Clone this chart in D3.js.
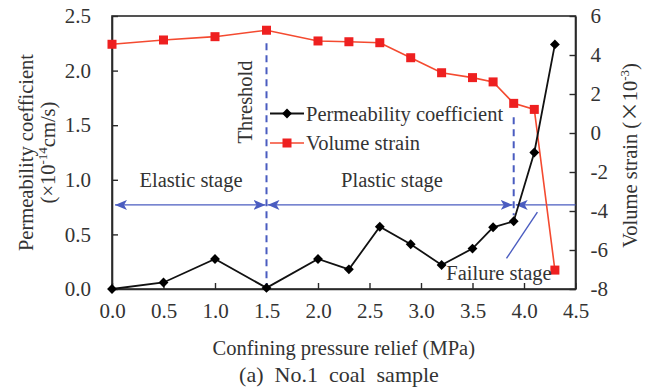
<!DOCTYPE html>
<html>
<head>
<meta charset="utf-8">
<script src="https://cdn.jsdelivr.net/npm/d3@7"></script>
<style>
  html, body { margin: 0; padding: 0; background: #fff; }
  svg { display: block; }
  text { font-family: "Liberation Serif", "Times New Roman", serif; fill: #333; }
</style>
</head>
<body>
<svg id="chart" width="650" height="388"></svg>
<script>
// Confining pressure relief (MPa)
const pressure = [0, 0.5, 1.0, 1.5, 2.0, 2.3, 2.6, 2.9, 3.2, 3.5, 3.7, 3.9, 4.1, 4.3];
// Permeability coefficient (×10^-14 cm/s)
const permeability = [0.0, 0.06, 0.275, 0.01, 0.275, 0.18, 0.57, 0.41, 0.22, 0.37, 0.565, 0.62, 1.25, 2.24];
// Volume strain (×10^-3)
const volumeStrain = [4.55, 4.77, 4.94, 5.27, 4.72, 4.68, 4.63, 3.86, 3.09, 2.84, 2.62, 1.52, 1.21, -7.03];

const xTicks = [0, 0.5, 1.0, 1.5, 2.0, 2.5, 3.0, 3.5, 4.0, 4.5];
const yLeftTicks = [0, 0.5, 1.0, 1.5, 2.0, 2.5];
const yRightTicks = [-8, -6, -4, -2, 0, 2, 4, 6];

// Stage boundaries (MPa)
const thresholdP = 1.5;
const failureP = 3.9;
const stageArrowLevel = 0.77; // on the permeability axis

const svg = d3.select("#chart");
const M = { left: 112, right: 575.5, top: 16, bottom: 289 };

const x = d3.scaleLinear().domain([0, 4.5]).range([M.left, M.right]);
const yL = d3.scaleLinear().domain([0, 2.5]).range([M.bottom, M.top]);
const yR = d3.scaleLinear().domain([-8, 6]).range([M.bottom, M.top]);

const BLUE = "#4a5cc0";
const RED = "#ee2020";
const REDLINE = "#f44a30";
const AXIS = "#2a2a2a";
const FS = 20.5;
const TICK_FS = 21;

// frame
svg.append("rect")
  .attr("x", M.left).attr("y", M.top)
  .attr("width", M.right - M.left).attr("height", M.bottom - M.top)
  .attr("fill", "none").attr("stroke", AXIS).attr("stroke-width", 1.6);

function styleAxis(g) {
  g.select(".domain").attr("stroke", AXIS).attr("stroke-width", 1.6);
  g.selectAll(".tick line").attr("stroke", AXIS).attr("stroke-width", 1.4);
  g.selectAll(".tick text")
    .attr("font-size", TICK_FS)
    .attr("font-family", "Liberation Serif, serif")
    .attr("fill", "#333");
}

svg.append("g").attr("transform", `translate(0,${M.bottom})`)
  .call(d3.axisBottom(x).tickValues(xTicks).tickFormat(d3.format(".1f"))
    .tickSizeInner(-6).tickSizeOuter(0).tickPadding(14))
  .call(styleAxis);

svg.append("g").attr("transform", `translate(${M.left},0)`)
  .call(d3.axisLeft(yL).tickValues(yLeftTicks).tickFormat(d3.format(".1f"))
    .tickSizeInner(-6).tickSizeOuter(0).tickPadding(21))
  .call(styleAxis);

svg.append("g").attr("transform", `translate(${M.right},0)`)
  .call(d3.axisRight(yR).tickValues(yRightTicks).tickFormat(d => d3.format("d")(d).replace("−", "-"))
    .tickSizeInner(-6).tickSizeOuter(0).tickPadding(15))
  .call(styleAxis);

// arrowheads
const defs = svg.append("defs");
defs.append("marker")
  .attr("id", "arrow").attr("viewBox", "0 0 12 10")
  .attr("refX", 12).attr("refY", 5)
  .attr("markerWidth", 12).attr("markerHeight", 10)
  .attr("markerUnits", "userSpaceOnUse")
  .attr("orient", "auto-start-reverse")
  .append("path").attr("d", "M0,0 L12,5 L0,10 L3,5 Z").attr("fill", BLUE);

// threshold and failure dashed lines
svg.append("line")
  .attr("x1", x(thresholdP)).attr("x2", x(thresholdP))
  .attr("y1", yR(volumeStrain[3]) + 13).attr("y2", M.bottom)
  .attr("stroke", BLUE).attr("stroke-width", 2).attr("stroke-dasharray", "7,5");
svg.append("line")
  .attr("x1", x(failureP)).attr("x2", x(failureP))
  .attr("y1", yR(volumeStrain[11]) + 14).attr("y2", yL(permeability[11]) - 6)
  .attr("stroke", BLUE).attr("stroke-width", 2).attr("stroke-dasharray", "7,5");

// stage arrows
const ay = yL(stageArrowLevel);
svg.append("line")
  .attr("x1", x(0) + 3).attr("x2", x(thresholdP) - 1).attr("y1", ay).attr("y2", ay)
  .attr("stroke", BLUE).attr("stroke-width", 1.4)
  .attr("marker-start", "url(#arrow)").attr("marker-end", "url(#arrow)");
svg.append("line")
  .attr("x1", x(thresholdP) + 1).attr("x2", x(failureP) - 1).attr("y1", ay).attr("y2", ay)
  .attr("stroke", BLUE).attr("stroke-width", 1.4)
  .attr("marker-start", "url(#arrow)").attr("marker-end", "url(#arrow)");
svg.append("line")
  .attr("x1", x(failureP) + 2).attr("x2", M.right).attr("y1", ay).attr("y2", ay)
  .attr("stroke", BLUE).attr("stroke-width", 1.4)
  .attr("marker-start", "url(#arrow)");

// leader line for failure stage
svg.append("line")
  .attr("x1", x(3.83)).attr("y1", yL(0.28))
  .attr("x2", x(4.13)).attr("y2", yL(0.705))
  .attr("stroke", BLUE).attr("stroke-width", 1.4);

// series lines
const lineL = d3.line().x((d, i) => x(pressure[i])).y(d => yL(d));
const lineR = d3.line().x((d, i) => x(pressure[i])).y(d => yR(d));

svg.append("path").datum(volumeStrain).attr("d", lineR)
  .attr("fill", "none").attr("stroke", REDLINE).attr("stroke-width", 1.6);
svg.append("path").datum(permeability).attr("d", lineL)
  .attr("fill", "none").attr("stroke", "#111").attr("stroke-width", 1.8);

const diamond = d3.symbol().type(d3.symbolDiamond2).size(62);
svg.append("g").selectAll("path").data(permeability).join("path")
  .attr("d", diamond)
  .attr("transform", (d, i) => `translate(${x(pressure[i])},${yL(d)})`)
  .attr("fill", "#000");

svg.append("g").selectAll("rect").data(volumeStrain).join("rect")
  .attr("x", (d, i) => x(pressure[i]) - 4.5).attr("y", d => yR(d) - 4.5)
  .attr("width", 9).attr("height", 9)
  .attr("fill", RED);

// legend
const lg = svg.append("g");
lg.append("line").attr("x1", 270).attr("x2", 304).attr("y1", 113.5).attr("y2", 113.5)
  .attr("stroke", "#111").attr("stroke-width", 1.8);
lg.append("path").attr("d", diamond).attr("transform", "translate(287,113.5)").attr("fill", "#000");
lg.append("text").attr("x", 306).attr("y", 121)
  .attr("font-size", FS).text("Permeability coefficient");
lg.append("line").attr("x1", 270).attr("x2", 304).attr("y1", 143).attr("y2", 143)
  .attr("stroke", REDLINE).attr("stroke-width", 1.6);
lg.append("rect").attr("x", 282.5).attr("y", 138.5).attr("width", 9).attr("height", 9).attr("fill", RED);
lg.append("text").attr("x", 306).attr("y", 150)
  .attr("font-size", FS).text("Volume strain");

// annotations
svg.append("text").attr("transform", `translate(252,102) rotate(-90)`)
  .attr("text-anchor", "middle").attr("font-size", FS).text("Threshold");
svg.append("text").attr("x", 191).attr("y", 187)
  .attr("text-anchor", "middle").attr("font-size", FS).text("Elastic stage");
svg.append("text").attr("x", 392).attr("y", 187)
  .attr("text-anchor", "middle").attr("font-size", FS).text("Plastic stage");
svg.append("text").attr("x", 499).attr("y", 280)
  .attr("text-anchor", "middle").attr("font-size", FS).text("Failure stage");

// axis titles
const midY = (M.top + M.bottom) / 2;
svg.append("text").attr("transform", `translate(33,${midY}) rotate(-90)`)
  .attr("text-anchor", "middle").attr("font-size", FS).text("Permeability coefficient");
const t2 = svg.append("text").attr("transform", `translate(55,${midY}) rotate(-90)`)
  .attr("text-anchor", "middle").attr("font-size", FS);
t2.append("tspan").text("(×10");
t2.append("tspan").attr("font-size", 13).attr("dy", -8).text("-14");
t2.append("tspan").attr("dy", 8).text("cm/s)");

const t3 = svg.append("text").attr("transform", `translate(637,${midY + 3}) rotate(-90)`)
  .attr("text-anchor", "middle").attr("font-size", FS);
t3.append("tspan").text("Volume strain (");
t3.append("tspan").attr("font-family", "Noto Sans CJK SC").text("×");
t3.append("tspan").text("10");
t3.append("tspan").attr("font-size", 13).attr("dy", -8).text("-3");
t3.append("tspan").attr("dy", 8).text(")");

svg.append("text").attr("x", (M.left + M.right) / 2).attr("y", 355)
  .attr("text-anchor", "middle").attr("font-size", FS).text("Confining pressure relief (MPa)");
svg.append("text").attr("x", 339).attr("y", 382)
  .attr("text-anchor", "middle").attr("font-size", 22)
  .style("white-space", "pre").text("(a)  No.1  coal  sample");
</script>
</body>
</html>
